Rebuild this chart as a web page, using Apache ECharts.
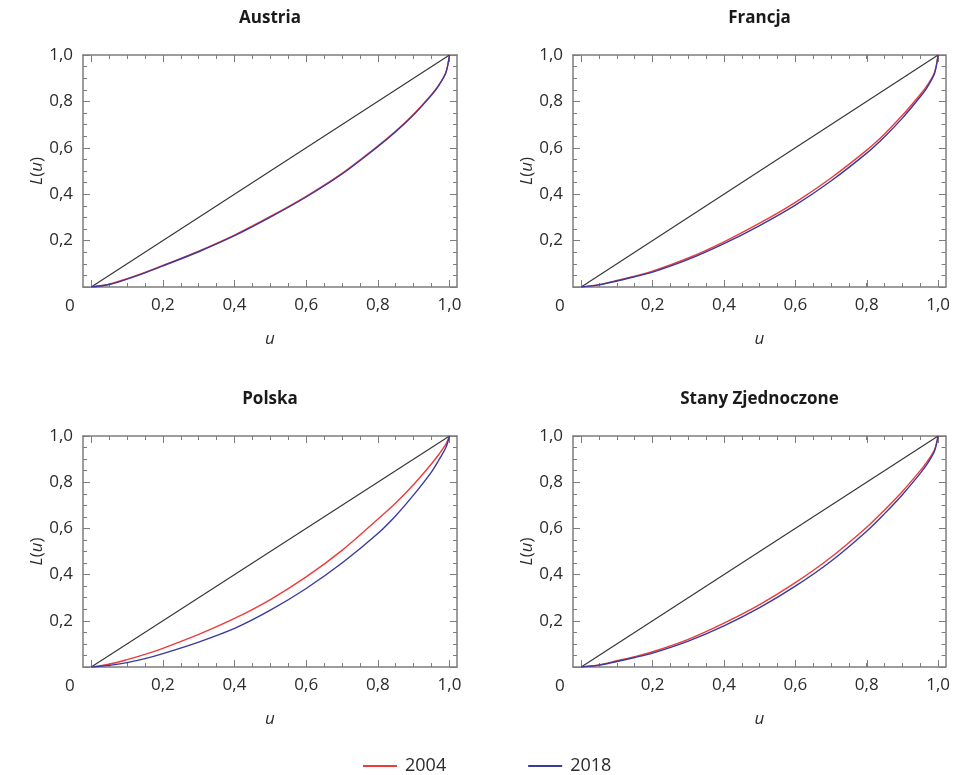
<!DOCTYPE html>
<html><head><meta charset="utf-8">
<script src="https://cdn.jsdelivr.net/npm/echarts@6/dist/echarts.min.js"></script>
<style>html,body{margin:0;padding:0;background:#fff}#c{width:953px;height:775px}</style>
</head><body><div id="c"></div>
<script>
// ---- data ----
const countries = ['Austria', 'Francja', 'Polska', 'Stany Zjednoczone'];
const years = ['2004', '2018'];
const u = [0, 0.05, 0.1, 0.15, 0.2, 0.3, 0.4, 0.5, 0.6, 0.7, 0.8, 0.85, 0.9, 0.95, 0.97, 0.99, 1];
const austria2004 = [0, 0.012, 0.036, 0.063, 0.093, 0.155, 0.224, 0.304, 0.391, 0.490, 0.608, 0.672, 0.745, 0.830, 0.870, 0.925, 1];
const austria2018 = [0, 0.011, 0.034, 0.061, 0.091, 0.152, 0.221, 0.301, 0.388, 0.487, 0.605, 0.669, 0.742, 0.827, 0.868, 0.924, 1];
const francja2004 = [0, 0.010, 0.028, 0.047, 0.068, 0.125, 0.195, 0.275, 0.365, 0.470, 0.590, 0.660, 0.740, 0.830, 0.870, 0.925, 1];
const francja2018 = [0, 0.009, 0.026, 0.044, 0.064, 0.119, 0.187, 0.265, 0.353, 0.457, 0.577, 0.648, 0.728, 0.820, 0.862, 0.920, 1];
const polska2004 = [0, 0.012, 0.032, 0.055, 0.081, 0.141, 0.210, 0.292, 0.390, 0.505, 0.640, 0.710, 0.790, 0.880, 0.920, 0.965, 1];
const polska2018 = [0, 0.007, 0.019, 0.036, 0.058, 0.108, 0.167, 0.246, 0.340, 0.450, 0.578, 0.655, 0.745, 0.845, 0.895, 0.950, 1];
const sz2004 = [0, 0.009, 0.027, 0.045, 0.066, 0.120, 0.190, 0.270, 0.365, 0.475, 0.605, 0.680, 0.760, 0.850, 0.890, 0.940, 1];
const sz2018 = [0, 0.008, 0.024, 0.041, 0.060, 0.112, 0.178, 0.257, 0.350, 0.458, 0.588, 0.664, 0.746, 0.838, 0.880, 0.935, 1];
const equalityU = [0, 1];
const equalityL = [0, 1];
const xTickLabels = [0.2, 0.4, 0.6, 0.8, 1.0];
const yTickLabels = [0.2, 0.4, 0.6, 0.8, 1.0];
const majorTicks = [0, 0.2, 0.4, 0.6, 0.8, 1.0];
const minorTicks = [0, 0.05, 0.1, 0.15, 0.2, 0.25, 0.3, 0.35, 0.4, 0.45, 0.5, 0.55, 0.6, 0.65, 0.7, 0.75, 0.8, 0.85, 0.9, 0.95, 1.0];

const curves = [
  [austria2004, austria2018],
  [francja2004, francja2018],
  [polska2004, polska2018],
  [sz2004, sz2018]
];

// ---- layout / style ----
const rects = [
  { left: 83, top: 55, width: 374, height: 232 },
  { left: 573, top: 55, width: 373, height: 232 },
  { left: 83, top: 436, width: 374, height: 231 },
  { left: 573, top: 436, width: 373, height: 231 }
];
const XMIN = -0.023, XMAX = 1.021;
const FONT = 'Open Sans';
const TXT = '#2b2b2b';
const FRAME = '#7d7d7d';
const RED = '#ee3c3c';
const BLUE = '#3a3a9e';
const fmt = v => v.toFixed(1).replace('.', ',');
const pairs = (xs, ys) => xs.map((x, i) => [x, ys[i]]);

const grid = [], xAxis = [], yAxis = [], series = [], title = [], graphic = [];

rects.forEach(r => grid.push(Object.assign({ containLabel: false }, r)));
rects.forEach(r => grid.push(Object.assign({ containLabel: false }, r)));

const tickBase = (len, vals) => ({ show: true, inside: true, length: len, customValues: vals, lineStyle: { color: FRAME, width: 1 } });

rects.forEach((r, i) => {
  xAxis.push({
    gridIndex: i, type: 'value', position: 'bottom', min: XMIN, max: XMAX,
    axisLine: { show: true, onZero: false, lineStyle: { color: FRAME, width: 1.5 } },
    axisTick: tickBase(4, minorTicks),
    axisLabel: { show: true, customValues: xTickLabels, formatter: fmt, margin: 10, fontFamily: FONT, fontSize: 17, color: TXT },
    splitLine: { show: false },
    name: '{i|u}', nameLocation: 'middle', nameGap: 44,
    nameTextStyle: { rich: { i: { fontFamily: FONT, fontStyle: 'italic', fontSize: 17, color: TXT } } }
  });
  xAxis.push({
    gridIndex: i, type: 'value', position: 'top', min: XMIN, max: XMAX,
    axisLine: { show: true, onZero: false, lineStyle: { color: FRAME, width: 1.5 } },
    axisTick: tickBase(4, minorTicks), axisLabel: { show: false }, splitLine: { show: false }
  });
  yAxis.push({
    gridIndex: i, type: 'value', position: 'left', min: 0, max: 1,
    axisLine: { show: true, onZero: false, lineStyle: { color: FRAME, width: 1.5 } },
    axisTick: tickBase(4, minorTicks),
    axisLabel: { show: true, customValues: yTickLabels, formatter: fmt, margin: 10, fontFamily: FONT, fontSize: 17, color: TXT },
    splitLine: { show: false },
    name: '{i|L}({i|u})', nameLocation: 'middle', nameGap: 36,
    nameTextStyle: { fontFamily: FONT, fontSize: 17, color: TXT, rich: { i: { fontFamily: FONT, fontStyle: 'italic', fontSize: 17, color: TXT } } }
  });
  yAxis.push({
    gridIndex: i, type: 'value', position: 'right', min: 0, max: 1,
    axisLine: { show: true, onZero: false, lineStyle: { color: FRAME, width: 1.5 } },
    axisTick: tickBase(4, minorTicks), axisLabel: { show: false }, splitLine: { show: false }
  });
});
rects.forEach((r, i) => {
  const g = 4 + i;
  ['bottom', 'top'].forEach(p => xAxis.push({
    gridIndex: g, type: 'value', position: p, min: XMIN, max: XMAX,
    axisLine: { show: false, onZero: false }, axisTick: tickBase(7, majorTicks),
    axisLabel: { show: false }, splitLine: { show: false }
  }));
  ['left', 'right'].forEach(p => yAxis.push({
    gridIndex: g, type: 'value', position: p, min: 0, max: 1,
    axisLine: { show: false, onZero: false }, axisTick: tickBase(7, majorTicks),
    axisLabel: { show: false }, splitLine: { show: false }
  }));
});

rects.forEach((r, i) => {
  series.push({
    type: 'line', name: 'equality', xAxisIndex: 2 * i, yAxisIndex: 2 * i,
    data: pairs(equalityU, equalityL), symbol: 'none', silent: true,
    lineStyle: { color: '#333333', width: 1.1 }, z: 2
  });
  [RED, BLUE].forEach((c, k) => series.push({
    type: 'line', name: years[k], xAxisIndex: 2 * i, yAxisIndex: 2 * i,
    data: pairs(u, curves[i][k]), symbol: 'none', smooth: 0.3,
    color: c, lineStyle: { color: c, width: 1.4 }, z: 3 + k
  }));
  title.push({
    text: countries[i], left: r.left + r.width / 2, top: r.top - 45, textAlign: 'center', padding: 0,
    textStyle: { fontFamily: FONT, fontWeight: 'bold', fontSize: 17, color: '#1a1a1a' }
  });
  graphic.push({
    type: 'text', left: r.left - 18, top: r.top + r.height + 11,
    style: { text: '0', font: '17px "Open Sans"', fill: TXT }
  });
});

const chart = echarts.init(document.getElementById('c'));
chart.setOption({
  animation: false,
  backgroundColor: '#ffffff',
  title, grid, xAxis, yAxis, series, graphic,
  legend: {
    data: [
      { name: '2004', icon: 'rect', itemStyle: { color: RED } },
      { name: '2018', icon: 'rect', itemStyle: { color: BLUE } }
    ],
    top: 752, left: 358, itemWidth: 34, itemHeight: 2, itemGap: 82,
    textStyle: { fontFamily: FONT, fontSize: 18, color: TXT, padding: [0, 0, 0, 3] }
  }
});
</script>
</body></html>
